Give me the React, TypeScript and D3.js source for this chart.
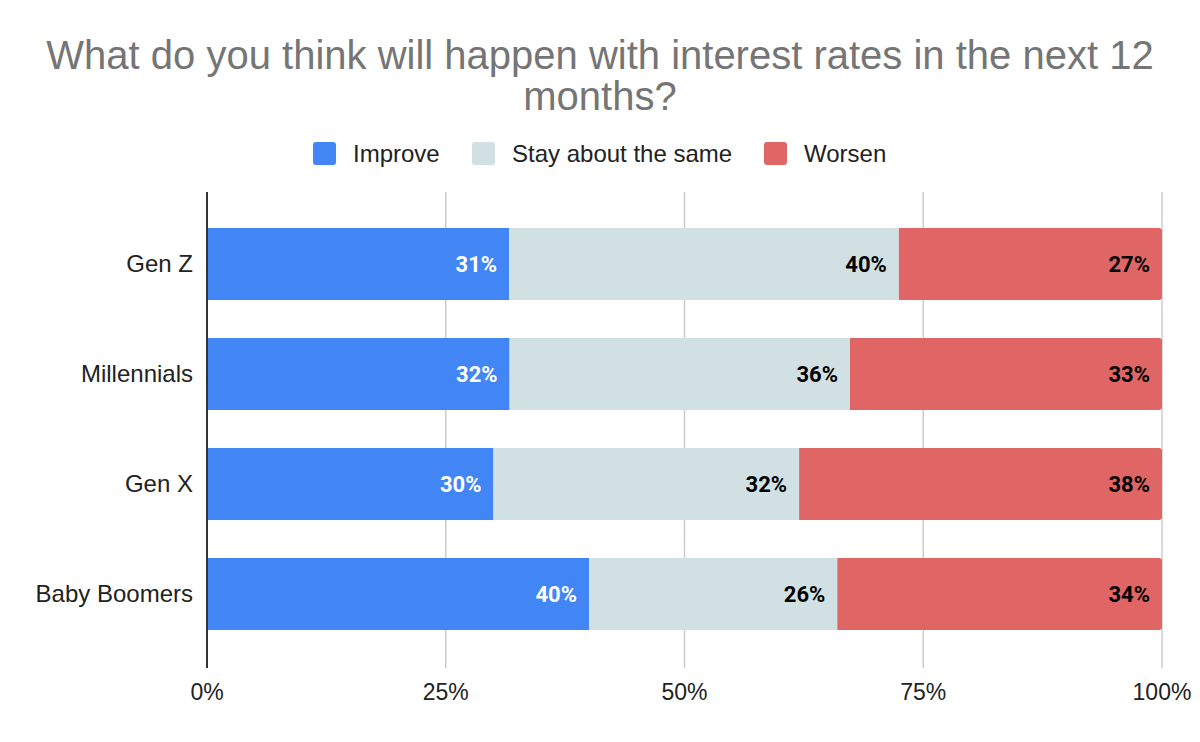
import React, { useEffect, useRef } from "react";
import * as d3 from "d3";

const generations = ["Gen Z", "Millennials", "Gen X", "Baby Boomers"];
const improve = [31, 32, 30, 40];
const stayTheSame = [40, 36, 32, 26];
const worsen = [27, 33, 38, 34];
const seriesNames = ["Improve", "Stay about the same", "Worsen"];
const seriesColors = ["#4285f4", "#d0e0e3", "#e06666"];
const labelColors = ["#ffffff", "#000000", "#000000"];
const tickValues = [0, 0.25, 0.5, 0.75, 1];
const titleLines = ["What do you think will happen with interest rates in the next 12", "months?"];

const W = 1200;
const H = 742;
const FONT = "'Liberation Sans', Arial, sans-serif";

export default function App() {
  const ref = useRef<SVGSVGElement | null>(null);

  useEffect(() => {
    const svg = d3.select(ref.current);
    svg.selectAll("*").remove();

    const rows = generations.map((g, i) => ({
      name: g,
      Improve: improve[i],
      "Stay about the same": stayTheSame[i],
      Worsen: worsen[i],
    }));
    // each row normalised to 100%
    const stacked = d3.stack<any>().keys(seriesNames).offset(d3.stackOffsetExpand)(rows);

    const x = d3.scaleLinear().domain([0, 1]).range([207, 1162]);
    const y = d3.scaleBand().domain(generations).range([209, 649]).paddingInner(0.345).paddingOuter(0.1725);
    const top = 192, bottom = 668;

    // title
    svg.append("g").selectAll("text").data(titleLines).join("text")
      .attr("x", W / 2)
      .attr("y", (d, i) => 69 + i * 41)
      .attr("text-anchor", "middle")
      .style("font-family", FONT)
      .style("font-size", "40px")
      .attr("fill", "#757575")
      .text(d => d);

    // legend
    const legendX = [313, 472, 764];
    const lg = svg.append("g");
    seriesNames.forEach((s, i) => {
      lg.append("rect").attr("x", legendX[i]).attr("y", 142).attr("width", 23).attr("height", 23)
        .attr("rx", 3).attr("fill", seriesColors[i]);
      lg.append("text").attr("x", legendX[i] + 40).attr("y", 162)
        .style("font-family", FONT).style("font-size", "24px").attr("fill", "#222")
        .text(s);
    });

    // grid lines
    svg.append("g").selectAll("line").data(tickValues.slice(1)).join("line")
      .attr("x1", d => x(d)).attr("x2", d => x(d))
      .attr("y1", top).attr("y2", bottom)
      .attr("stroke", "#cccccc").attr("stroke-width", 1.5);

    // bars + value labels at the end of each segment
    const bh = y.bandwidth();
    stacked.forEach((layer, li) => {
      const g = svg.append("g");
      layer.forEach((seg, ri) => {
        const x0 = x(seg[0]);
        const x1 = x(seg[1]);
        const yy = y(generations[ri])!;
        if (li === stacked.length - 1) {
          const r = 3;
          const p = d3.path();
          p.moveTo(x0, yy);
          p.lineTo(x1 - r, yy);
          p.arcTo(x1, yy, x1, yy + r, r);
          p.lineTo(x1, yy + bh - r);
          p.arcTo(x1, yy + bh, x1 - r, yy + bh, r);
          p.lineTo(x0, yy + bh);
          p.closePath();
          g.append("path").attr("d", p.toString()).attr("fill", seriesColors[li]);
        } else {
          g.append("rect").attr("x", x0).attr("y", yy).attr("width", x1 - x0).attr("height", bh)
            .attr("fill", seriesColors[li]);
        }
        g.append("text")
          .attr("x", x1 - 12)
          .attr("y", yy + bh / 2 + 8)
          .attr("text-anchor", "end")
          .style("font-family", "Roboto, sans-serif")
          .style("font-weight", "bold")
          .style("font-size", "22px")
          .attr("fill", labelColors[li])
          .text(`${(rows[ri] as any)[seriesNames[li]]}%`);
      });
    });

    // baseline axis
    svg.append("line").attr("x1", x(0)).attr("x2", x(0)).attr("y1", top).attr("y2", bottom)
      .attr("stroke", "#333").attr("stroke-width", 2);

    // category labels
    svg.append("g").selectAll("text").data(generations).join("text")
      .attr("x", 193)
      .attr("y", d => y(d)! + bh / 2 + 8)
      .attr("text-anchor", "end")
      .style("font-family", FONT).style("font-size", "24px").attr("fill", "#222")
      .text(d => d);

    // tick labels
    svg.append("g").selectAll("text").data(tickValues).join("text")
      .attr("x", d => x(d))
      .attr("y", 700)
      .attr("text-anchor", "middle")
      .style("font-family", FONT).style("font-size", "23px").attr("fill", "#222")
      .text(d => d3.format(".0%")(d));
  }, []);

  return (
    <div style={{ position: "absolute", left: 0, top: 0 }}>
      <svg ref={ref} width={W} height={H} style={{ display: "block", background: "#fff" }} />
    </div>
  );
}
